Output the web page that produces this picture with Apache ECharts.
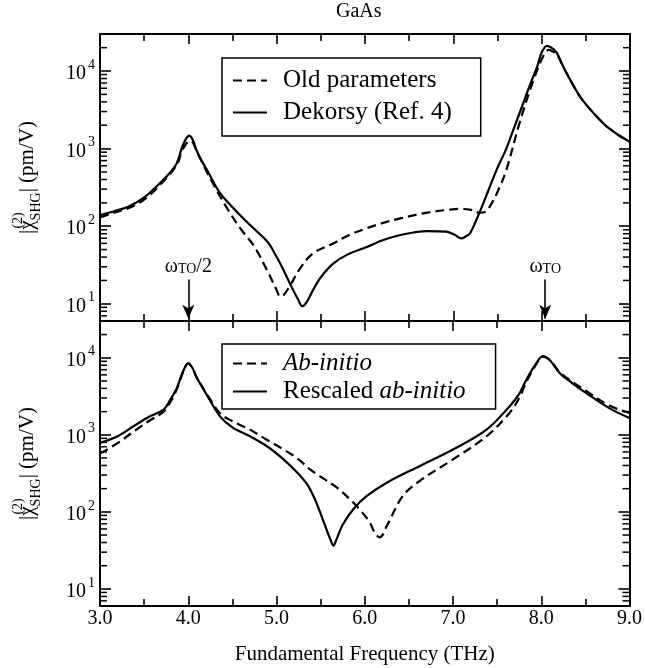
<!DOCTYPE html>
<html>
<head>
<meta charset="utf-8">
<script src="https://cdn.jsdelivr.net/npm/echarts@6/dist/echarts.min.js"></script>
<style>
html,body{margin:0;padding:0;background:#fff;}
#chart{width:645px;height:668px;}
</style>
</head>
<body>
<div id="chart"></div>
<script>
// ---- data ----
const xTicks = [3.0, 4.0, 5.0, 6.0, 7.0, 8.0, 9.0];
const yRange = [6, 30000];
const minorMults = [2, 3, 4, 5, 6, 7, 8, 9];
const decades = [1, 10, 100, 1000, 10000];

// Top panel: Old parameters (dashed)
const topOld = [
  [3.0,130],[3.15,148],[3.32,170],[3.5,220],[3.7,360],[3.87,620],[3.94,1000],[4.02,1260],
  [4.06,1150],[4.1,900],[4.21,500],[4.3,320],[4.45,162],[4.6,90],[4.75,54],[4.91,24.5],
  [5.0,15],[5.04,12.4],[5.08,13],[5.15,17],[5.26,28],[5.41,44.5],[5.64,60],[5.82,77],
  [6.02,94],[6.2,110],[6.4,126],[6.6,142],[6.77,154],[6.95,163],[7.08,167],[7.2,162],
  [7.3,149],[7.36,152],[7.42,185],[7.49,260],[7.6,533],[7.75,2150],[7.91,7810],[8.02,15700],
  [8.08,18700],[8.12,18000],[8.17,16500],[8.25,11000],[8.32,7810],[8.43,4740],[8.52,3500],
  [8.62,2610],[8.72,2000],[8.81,1670],[8.9,1420],[9.0,1220]
];
// Top panel: Dekorsy (Ref. 4) (solid)
const topDekorsy = [
  [3.0,139],[3.15,155],[3.32,178],[3.5,235],[3.7,380],[3.8,500],[3.87,650],[3.94,1120],
  [4.01,1470],[4.05,1300],[4.09,968],[4.15,700],[4.21,533],[4.36,266],[4.5,175],[4.64,120],
  [4.78,85],[4.91,60],[5.0,40],[5.06,29.8],[5.17,16.4],[5.24,11.5],[5.29,9.3],[5.34,10.5],
  [5.41,14.9],[5.5,22],[5.64,33],[5.8,43],[6.02,54],[6.2,66],[6.4,77],[6.55,83],[6.7,86.5],
  [6.92,85],[7.02,77],[7.09,69.5],[7.15,75],[7.19,81],[7.3,154],[7.4,295],[7.49,533],
  [7.6,1000],[7.68,1758],[7.78,3550],[7.87,6730],[7.95,11500],[8.0,17300],[8.06,21100],
  [8.11,20000],[8.17,17300],[8.25,11000],[8.32,7810],[8.43,4740],[8.52,3500],[8.62,2610],
  [8.72,2000],[8.81,1670],[8.9,1420],[9.0,1220]
];
// Bottom panel: Ab-initio (dashed)
const botAbInitio = [
  [3.0,571],[3.2,780],[3.38,1100],[3.55,1500],[3.72,2000],[3.8,2700],[3.87,3900],[3.94,6500],
  [4.0,8400],[4.05,7200],[4.09,5700],[4.21,3400],[4.36,1900],[4.5,1500],[4.6,1320],[4.7,1168],
  [4.9,850],[5.08,645],[5.25,480],[5.38,355],[5.49,291],[5.7,200],[5.87,132],[5.94,108],
  [6.05,75],[6.12,52],[6.17,46.6],[6.25,65.8],[6.43,160],[6.62,251],[7.0,479],[7.38,957],
  [7.64,1920],[7.75,3000],[7.83,4800],[7.93,7800],[8.02,10300],[8.1,9300],[8.21,6500],
  [8.35,4900],[8.51,3700],[8.77,2400],[9.0,1920]
];
// Bottom panel: Rescaled ab-initio (solid)
const botRescaled = [
  [3.0,785],[3.2,960],[3.38,1290],[3.55,1700],[3.72,2118],[3.8,2900],[3.87,4036],[3.94,6600],
  [4.0,8500],[4.05,7300],[4.09,5700],[4.21,3300],[4.36,1735],[4.5,1250],[4.7,957],[4.9,700],
  [5.08,479],[5.25,310],[5.35,225],[5.43,150],[5.5,95],[5.56,62],[5.61,44],[5.645,36.5],
  [5.68,44],[5.75,68],[5.87,108],[6.02,160],[6.25,239],[6.62,392],[7.0,644],[7.38,1168],
  [7.64,2335],[7.75,3400],[7.83,5160],[7.93,8000],[8.02,10540],[8.1,9200],[8.21,6310],
  [8.35,4700],[8.51,3475],[8.77,2220],[9.0,1650]
];
// Arrow annotations (x position, top value, tip value)
const arrowX = [4.0, 8.04];
const arrowY = [20.5, 6.4];
const arrowLabels = ['{w|ω}{sub|TO}{w|/2}', '{w|ω}{sub|TO}'];

// ---- chart ----
const FONT = '"Liberation Serif", "DejaVu Serif", serif';
const minorVals = [];
decades.forEach(d => minorMults.forEach(m => {
  const v = m * d;
  if (v > yRange[0] && v < yRange[1]) minorVals.push([xTicks[0], v]);
}));

const grids = [
  {left: 100, top: 34, width: 530, height: 287},
  {left: 100, top: 321, width: 530, height: 285}
];

function xAx(gridIndex, position, showLabel) {
  return {
    type: 'value', gridIndex, position, min: xTicks[0], max: xTicks[xTicks.length - 1], interval: 1,
    axisLine: {show: true, onZero: false, lineStyle: {color: '#000', width: 2}},
    axisTick: {show: true, inside: true, length: 10, lineStyle: {color: '#000', width: 1.6}},
    minorTick: {show: true, splitNumber: 2, length: 7, lineStyle: {color: '#000', width: 1.6}},
    splitLine: {show: false},
    axisLabel: {show: showLabel, margin: 3, color: '#000', fontFamily: FONT, fontSize: 20,
      formatter: v => v.toFixed(1)},
    name: showLabel ? 'Fundamental Frequency (THz)' : '',
    nameLocation: 'middle', nameGap: 38,
    nameTextStyle: {color: '#000', fontFamily: FONT, fontSize: 21}
  };
}
function yAx(gridIndex, position, showLabel) {
  return {
    type: 'log', logBase: 10, gridIndex, position, min: yRange[0], max: yRange[1],
    axisLine: {show: true, onZero: false, lineStyle: {color: '#000', width: 2}},
    axisTick: {show: true, inside: true, length: 11, lineStyle: {color: '#000', width: 1.6}},
    splitLine: {show: false},
    axisLabel: {show: showLabel, margin: 5, showMinLabel: false, showMaxLabel: false,
      formatter: v => {
        const e = Math.round(Math.log10(v));
        if (Math.abs(v - Math.pow(10, e)) > 1e-6 * v) return '';
        return '{b|10}{s|' + e + '}';
      },
      rich: {
        b: {fontFamily: FONT, fontSize: 20, color: '#000', lineHeight: 26, verticalAlign: 'bottom'},
        s: {fontFamily: FONT, fontSize: 14, color: '#000', lineHeight: 14, verticalAlign: 'top', padding: [0, 0, 0, 2]}
      }
    },
    name: showLabel ? '|χ{sup|(2)}{sub|SHG}| (pm/V)' : '',
    nameLocation: 'middle', nameRotate: 90, nameGap: 57,
    nameTextStyle: {
      color: '#000', fontFamily: FONT, fontSize: 21, lineHeight: 32,
      rich: {
        sup: {fontFamily: FONT, fontSize: 14, color: '#000', lineHeight: 14, verticalAlign: 'top', width: 0, align: 'left'},
        sub: {fontFamily: FONT, fontSize: 14, color: '#000', lineHeight: 14, verticalAlign: 'bottom'}
      }
    }
  };
}

function lineSeries(name, data, xi, yi, dashed, extra) {
  return Object.assign({
    name, type: 'line', data, xAxisIndex: xi, yAxisIndex: yi,
    symbol: 'none', smooth: 0.35, silent: true, z: 3,
    lineStyle: {color: '#000', width: 2.2, type: dashed ? [9, 5] : 'solid'},
    itemStyle: {color: '#000'}
  }, extra || {});
}

function minorTickSeries(xi, yi) {
  return {
    type: 'custom', xAxisIndex: xi, yAxisIndex: yi, data: minorVals, silent: true, clip: false, z: 4,
    renderItem: (params, api) => {
      const v = api.value(1);
      const pL = api.coord([xTicks[0], v]);
      const pR = api.coord([xTicks[xTicks.length - 1], v]);
      const st = {stroke: '#000', lineWidth: 1.5};
      return {type: 'group', children: [
        {type: 'line', shape: {x1: pL[0], y1: pL[1], x2: pL[0] + 7, y2: pL[1]}, style: st},
        {type: 'line', shape: {x1: pR[0], y1: pR[1], x2: pR[0] - 7, y2: pR[1]}, style: st}
      ]};
    }
  };
}

const arrowMark = {
  silent: true, symbol: ['none', 'arrow'], symbolSize: [9, 14],
  lineStyle: {color: '#000', width: 1.6, type: 'solid'},
  label: {show: true, position: 'start', distance: 3, color: '#000',
    rich: {
      w: {fontFamily: FONT, fontSize: 20, color: '#000', lineHeight: 27, verticalAlign: 'bottom'},
      sub: {fontFamily: FONT, fontSize: 14, color: '#000', lineHeight: 14, verticalAlign: 'bottom'}
    }},
  data: arrowX.map((x, i) => [
    {coord: [x, arrowY[0]], label: {formatter: arrowLabels[i]}},
    {coord: [x, arrowY[1]]}
  ])
};

const legendBase = {
  orient: 'vertical', left: 222, borderColor: '#000', borderWidth: 1.5, borderRadius: 0,
  itemWidth: 34, itemHeight: 14,
  selectedMode: false, backgroundColor: '#fff',
  itemStyle: {opacity: 0},
  textStyle: {color: '#000', fontFamily: FONT, fontSize: 25, padding: [0, 0, 0, 11],
    rich: {i: {fontFamily: FONT, fontSize: 25, fontStyle: 'italic', color: '#000'}}}
};

const option = {
  animation: false,
  backgroundColor: '#fff',
  title: {text: 'GaAs', left: 336, top: 2, padding: 0,
    textStyle: {color: '#000', fontFamily: FONT, fontSize: 20, fontWeight: 'normal'}},
  grid: grids,
  xAxis: [xAx(0, 'bottom', false), xAx(0, 'top', false), xAx(1, 'bottom', true), xAx(1, 'top', false)],
  yAxis: [yAx(0, 'left', true), yAx(0, 'right', false), yAx(1, 'left', true), yAx(1, 'right', false)],
  legend: [
    Object.assign({}, legendBase, {top: 58, padding: [10, 29, 11, 10], itemGap: 7,
      data: ['Old parameters', 'Dekorsy (Ref. 4)']}),
    Object.assign({}, legendBase, {top: 344, padding: [7, 30, 5, 10], itemGap: 3,
      data: ['Ab-initio', 'Rescaled ab-initio'],
      formatter: n => n === 'Ab-initio' ? '{i|Ab-initio}' : 'Rescaled {i|ab-initio}'})
  ],
  series: [
    lineSeries('Old parameters', topOld, 0, 0, true),
    lineSeries('Dekorsy (Ref. 4)', topDekorsy, 0, 0, false, {markLine: arrowMark}),
    lineSeries('Ab-initio', botAbInitio, 2, 2, true),
    lineSeries('Rescaled ab-initio', botRescaled, 2, 2, false),
    minorTickSeries(0, 0),
    minorTickSeries(2, 2)
  ]
};

const chart = echarts.init(document.getElementById('chart'), null, {renderer: 'canvas'});
chart.setOption(option);
</script>
</body>
</html>
